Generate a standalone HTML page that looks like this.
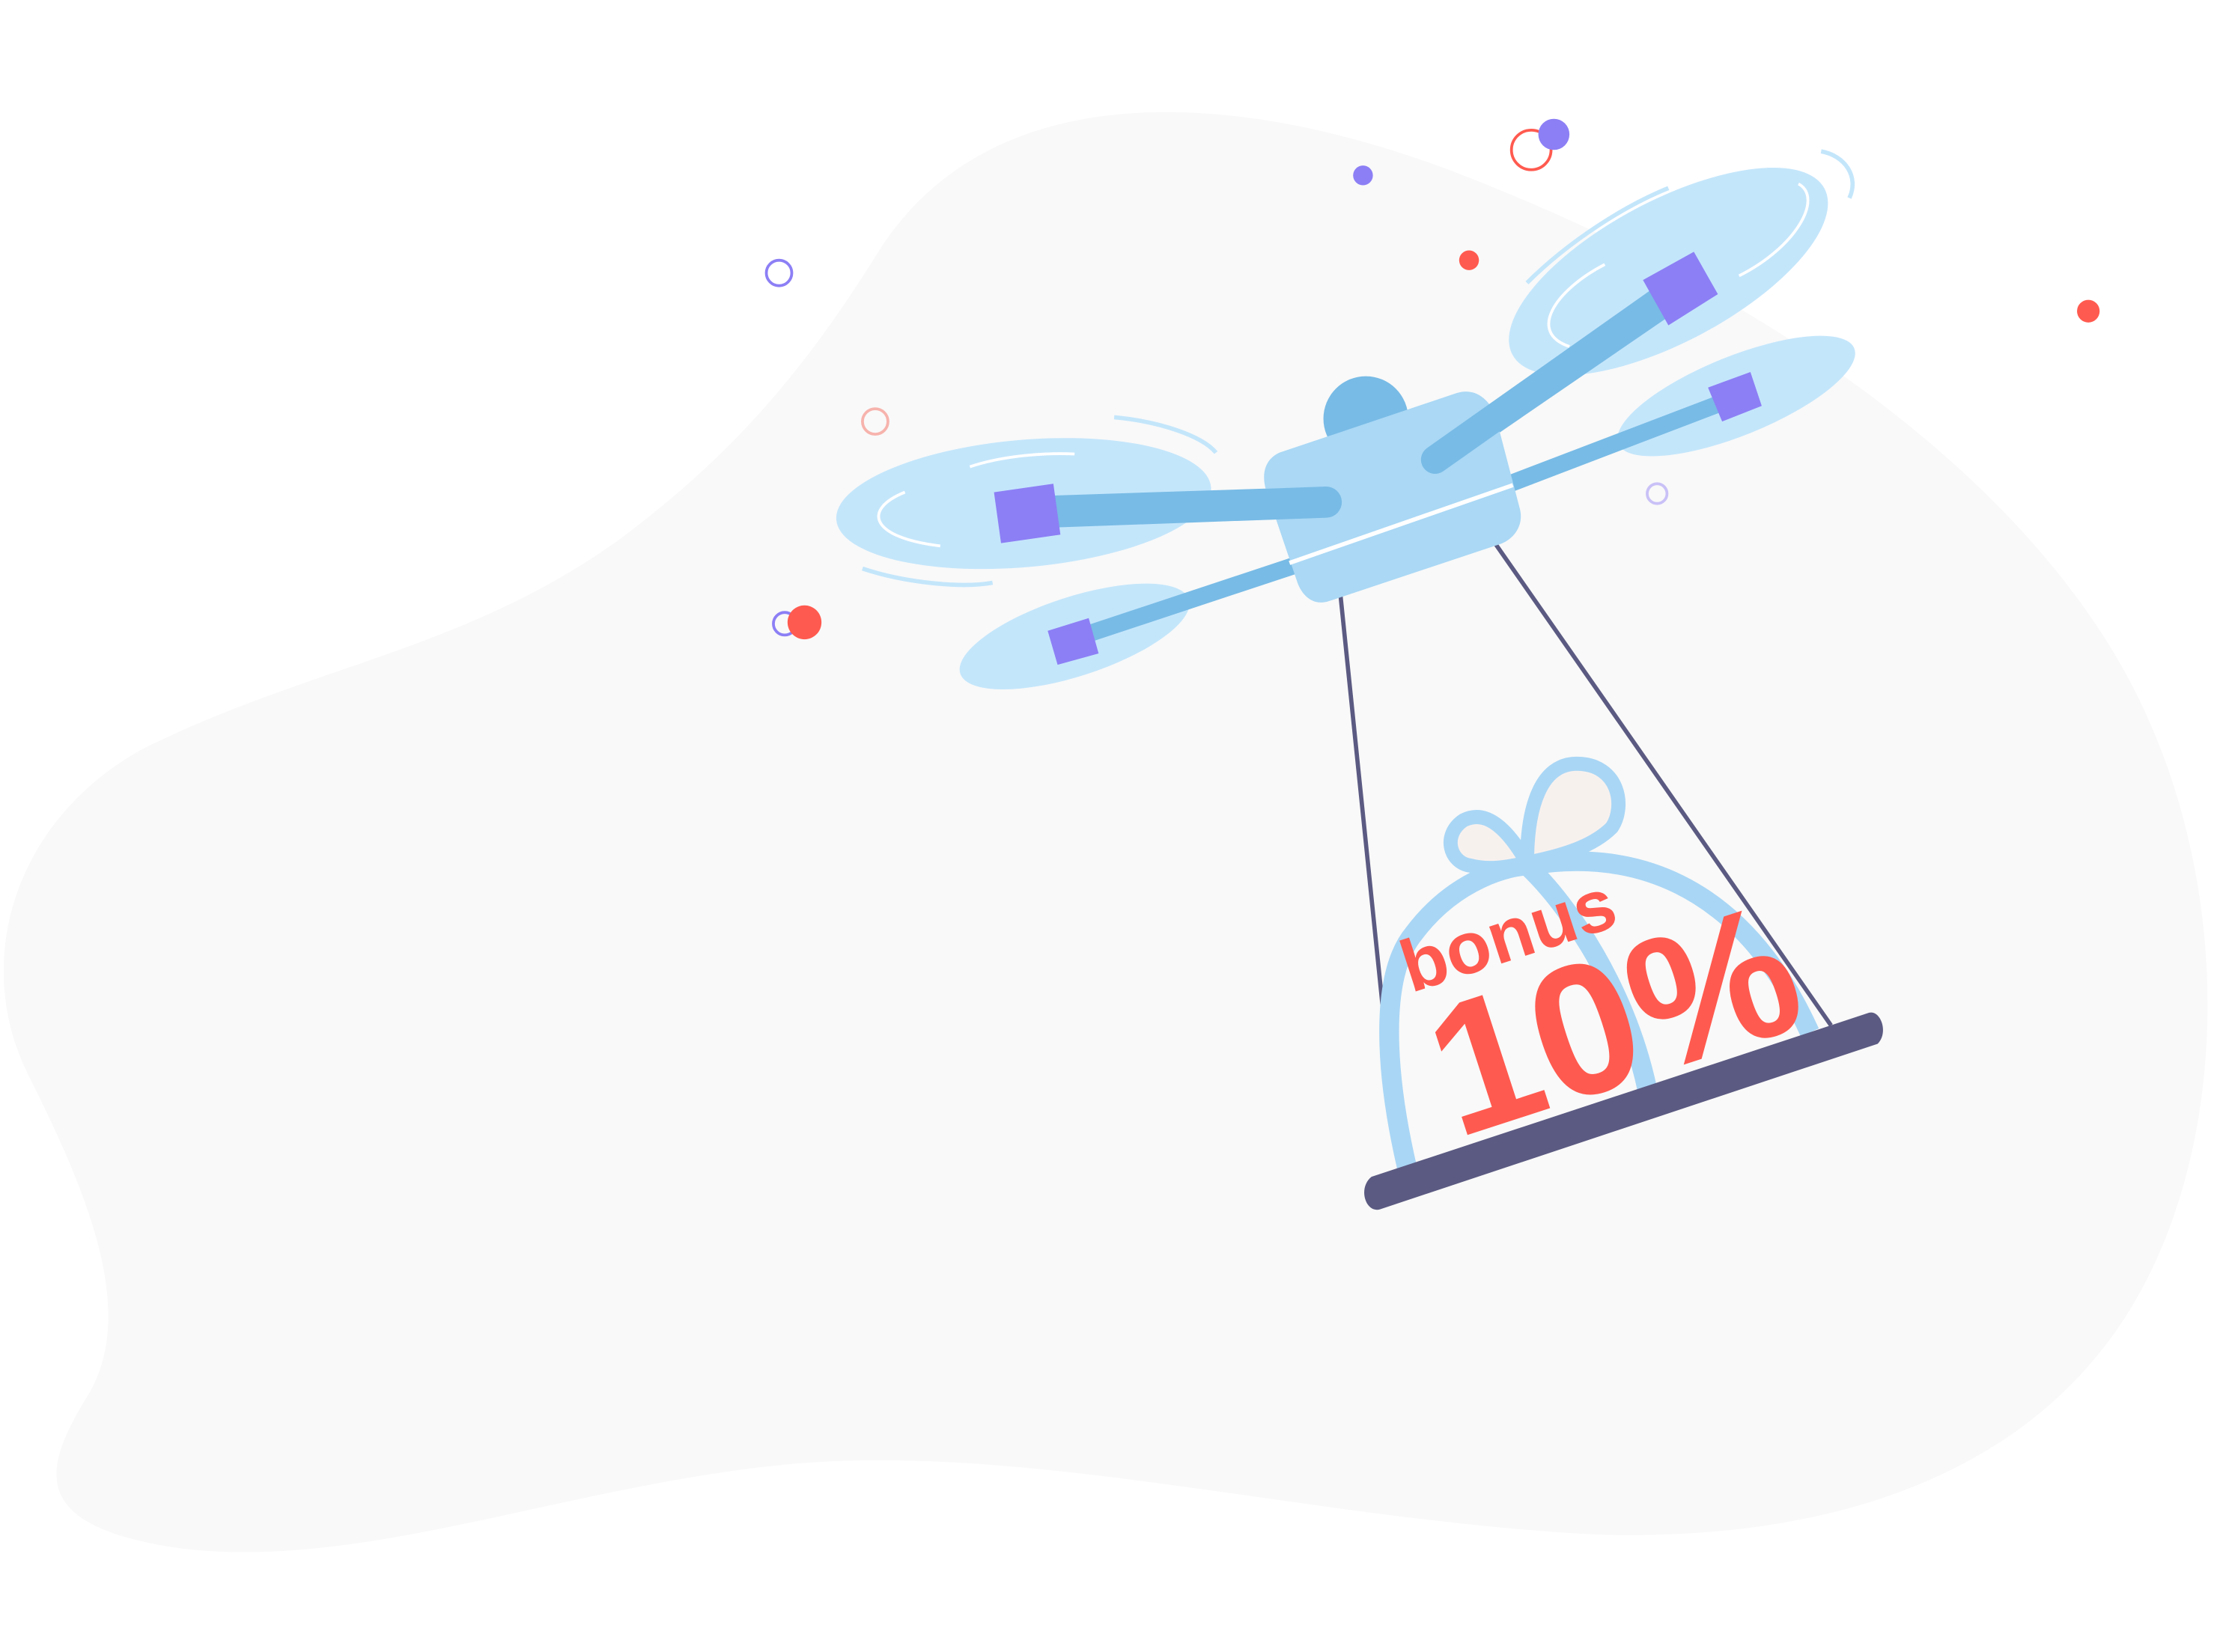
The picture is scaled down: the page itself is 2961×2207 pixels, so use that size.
<!DOCTYPE html>
<html><head><meta charset="utf-8"><style>
html,body{margin:0;padding:0;background:#fff;}
svg{display:block;width:2961px;height:2207px;}
text{font-family:"Liberation Sans",sans-serif;font-weight:bold;}
</style></head><body>
<svg viewBox="0 0 1568 1168" preserveAspectRatio="none">
<path fill="#f9f9f9" d="M620,180 C700,50 880,60 1050,130 C1250,210 1420,330 1500,470 C1580,610 1580,800 1510,920 C1440,1040 1300,1090 1130,1085 C930,1075 730,1020 560,1035 C400,1050 260,1110 130,1095 C20,1080 30,1040 60,990 C100,930 60,840 20,760 C-20,680 10,580 100,530 C220,470 330,460 440,380 C520,320 570,260 620,180 Z"/>
<g>
<circle cx="551" cy="193" r="9" fill="none" stroke="#8c7ff5" stroke-width="2"/>
<circle cx="619" cy="298" r="9" fill="none" stroke="#f7b3ad" stroke-width="2"/>
<circle cx="555" cy="441" r="8" fill="none" stroke="#8c7ff5" stroke-width="2"/>
<circle cx="569" cy="440" r="12" fill="#ff5a4f"/>
<circle cx="964" cy="124" r="7" fill="#8c7ff5"/>
<circle cx="1039" cy="184" r="7" fill="#ff5a4f"/>
<circle cx="1083" cy="106" r="14" fill="none" stroke="#ff5a4f" stroke-width="2"/>
<circle cx="1099" cy="95" r="11" fill="#8c7ff5"/>
<circle cx="1477" cy="220" r="8" fill="#ff5a4f"/>
<circle cx="1172" cy="349" r="7" fill="none" stroke="#c9c1f7" stroke-width="2"/>
</g>
<g stroke="#5b5a82" stroke-width="3">
<line x1="948" y1="420" x2="990" y2="830"/>
<line x1="1058" y1="385" x2="1295" y2="725"/>
</g>
<g>
<path d="M995,825 C980,760 975,690 1000,660 C1030,620 1070,612 1080,612 C1110,640 1150,700 1165,770" fill="none" stroke="#a9d6f5" stroke-width="14"/>
<path d="M1080,612 C1150,600 1230,620 1280,730" fill="none" stroke="#a9d6f5" stroke-width="14"/>
<path d="M1080,610 C1080,570 1090,540 1115,540 C1145,540 1150,570 1140,585 C1125,600 1100,606 1080,610 Z" fill="#f7f1ee" stroke="#a9d6f5" stroke-width="10"/>
<path d="M1080,610 C1060,575 1045,575 1035,580 C1020,590 1025,610 1040,612 C1055,616 1070,612 1080,610 Z" fill="#f7f1ee" stroke="#a9d6f5" stroke-width="10"/>
<text transform="translate(998,702) rotate(-18)" font-size="52" fill="#ff5a4f">bonus</text>
<text transform="translate(1030,805) rotate(-18)" font-size="132" fill="#ff5a4f">10%</text>
</g>
<path d="M970,832 L1322,716 C1330,714 1336,730 1328,738 L976,855 C966,858 960,840 970,832 Z" fill="#5b5a82"/>
<g>
<ellipse cx="1180" cy="192" rx="125" ry="50" transform="rotate(-28 1180 192)" fill="#c4e6fb"/>
<path d="M1080,200 C1110,170 1150,145 1180,133" stroke="#c4e6fb" stroke-width="3" fill="none"/>
<path d="M1288,107 C1305,110 1315,125 1308,140" stroke="#c4e6fb" stroke-width="3" fill="none"/>
<path d="M1272,130 C1290,140 1270,175 1230,195" stroke="#fff" stroke-width="2" fill="none"/>
<path d="M1135,187 C1100,205 1080,235 1110,245" stroke="#fff" stroke-width="2" fill="none"/>
</g>
<g>
<ellipse cx="1228" cy="280" rx="90" ry="28" transform="rotate(-22 1228 280)" fill="#c4e6fb"/>
</g>
<g>
<ellipse cx="724" cy="356" rx="133" ry="45" transform="rotate(-5 724 356)" fill="#c4e6fb"/>
<path d="M788,295 C820,298 850,308 860,320" stroke="#c4e6fb" stroke-width="3" fill="none"/>
<path d="M610,402 C640,412 680,416 702,412" stroke="#c4e6fb" stroke-width="3" fill="none"/>
<path d="M686,330 C710,322 740,320 760,321" stroke="#fff" stroke-width="2" fill="none"/>
<path d="M640,348 C610,360 615,380 665,386" stroke="#fff" stroke-width="2" fill="none"/>
</g>
<g>
<ellipse cx="760" cy="450" rx="85" ry="28" transform="rotate(-18 760 450)" fill="#c4e6fb"/>
</g>
<g stroke="#78bbe6" stroke-linecap="round">
<line x1="1015" y1="325" x2="1190" y2="205" stroke-width="20"/>
<line x1="1060" y1="345" x2="1225" y2="282" stroke-width="12"/>
<line x1="940" y1="355" x2="725" y2="362" stroke-width="22"/>
<line x1="915" y1="400" x2="758" y2="452" stroke-width="12"/>
</g>
<circle cx="966" cy="296" r="30" fill="#78bbe6"/>
<path d="M905,320 L1030,278 C1045,273 1055,285 1058,295 L1075,360 C1078,372 1070,382 1060,385 L940,425 C928,429 920,420 917,410 L895,345 C892,333 896,324 905,320 Z" fill="#aad8f5"/>
<line x1="912" y1="398" x2="1070" y2="343" stroke="#fff" stroke-width="3"/>
<line x1="1015" y1="325" x2="1175" y2="212" stroke="#78bbe6" stroke-width="20" stroke-linecap="round"/>
<line x1="938" y1="355" x2="745" y2="362" stroke="#78bbe6" stroke-width="22" stroke-linecap="round"/>
<g>
<path d="M703,348 L745,342 L750,378 L708,384 Z" fill="#8c7ff5"/>
<path d="M1162,198 L1198,178 L1215,208 L1180,230 Z" fill="#8c7ff5"/>
<path d="M1208,274 L1238,263 L1246,287 L1218,298 Z" fill="#8c7ff5"/>
<path d="M741,446 L770,437 L777,462 L748,470 Z" fill="#8c7ff5"/>
</g>
</svg>
</body></html>
